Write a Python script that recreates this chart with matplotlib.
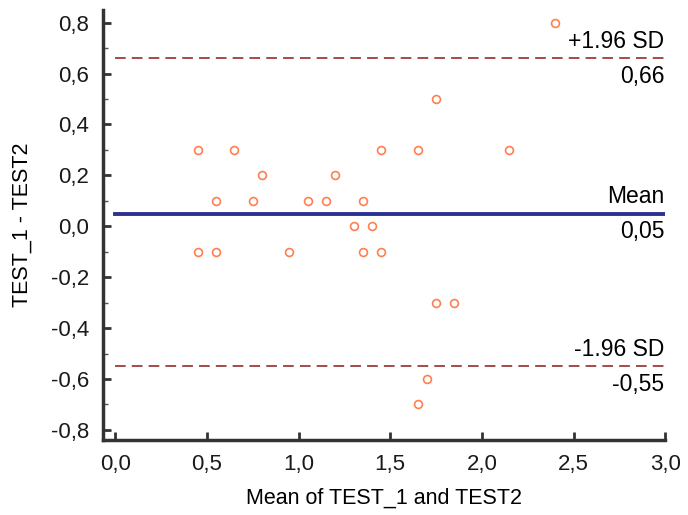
import numpy as np
import matplotlib
import matplotlib.pyplot as plt
from matplotlib.ticker import FuncFormatter, MultipleLocator

matplotlib.use("Agg")

# Bland-Altman data
mean_of_tests = [0.45, 0.65, 0.80, 0.55, 0.75, 1.05, 1.15, 1.20, 1.35, 1.30,
                 1.40, 1.45, 0.45, 0.55, 0.95, 1.35, 1.45, 1.65, 1.75, 2.15,
                 1.75, 1.85, 1.70, 1.65, 2.40]
diff_of_tests = [0.30, 0.30, 0.20, 0.10, 0.10, 0.10, 0.10, 0.20, 0.10, 0.00,
                 0.00, 0.30, -0.10, -0.10, -0.10, -0.10, -0.10, 0.30, 0.50, 0.30,
                 -0.30, -0.30, -0.60, -0.70, 0.80]
mean_diff = 0.05
upper_loa = 0.66
lower_loa = -0.55

x_ticks = [0.0, 0.5, 1.0, 1.5, 2.0, 2.5, 3.0]
y_ticks = [-0.8, -0.6, -0.4, -0.2, 0.0, 0.2, 0.4, 0.6, 0.8]

plt.rcParams['font.family'] = ['Liberation Sans', 'DejaVu Sans']

fig = plt.figure(figsize=(6.88, 5.15), dpi=100)
ax = fig.add_axes([0.150, 0.1456, 0.817, 0.835])

ax.scatter(mean_of_tests, diff_of_tests, s=32, facecolors="white",
           edgecolors="#FF7F50", linewidths=1.2, zorder=3)

ax.plot([0.0, 3.02], [mean_diff, mean_diff], color="#2E3192", lw=2.8, zorder=2)
for val in (upper_loa, lower_loa):
    ax.plot([0.0, 3.02], [val, val], color="#8B1A1A", lw=1.1,
            dashes=(7, 4), zorder=2)

fmt = lambda v: ("%.2f" % v).replace(".", ",")
lab_fs = 16.5
ax.text(2.995, mean_diff + 0.02, "Mean", ha="right", va="bottom", fontsize=lab_fs)
ax.text(2.995, mean_diff - 0.025, fmt(mean_diff), ha="right", va="top", fontsize=lab_fs)
ax.text(2.995, upper_loa + 0.02, "+1.96 SD", ha="right", va="bottom", fontsize=lab_fs)
ax.text(2.995, upper_loa - 0.025, fmt(upper_loa), ha="right", va="top", fontsize=lab_fs)
ax.text(2.995, lower_loa + 0.02, "-1.96 SD", ha="right", va="bottom", fontsize=lab_fs)
ax.text(2.995, lower_loa - 0.025, fmt(lower_loa), ha="right", va="top", fontsize=lab_fs)

ax.set_xlim(-0.065, 3.0)
ax.set_ylim(-0.84, 0.85)
ax.set_xticks(x_ticks)
ax.set_yticks(y_ticks)
ax.yaxis.set_minor_locator(MultipleLocator(0.1))
ax.xaxis.set_major_formatter(FuncFormatter(lambda v, p: ("%.1f" % v).replace(".", ",")))
ax.yaxis.set_major_formatter(FuncFormatter(lambda v, p: ("%.1f" % v).replace(".", ",")))

for side in ("top", "right"):
    ax.spines[side].set_visible(False)
for side in ("left", "bottom"):
    ax.spines[side].set_color("#333333")
    ax.spines[side].set_linewidth(2.5)

ax.tick_params(which="major", direction="in", length=6, width=2, color="#333333",
               labelsize=16, labelcolor="#1a1a1a", pad=10)
ax.tick_params(which="minor", direction="in", length=3.5, width=1, color="#555555")

ax.set_xlabel("Mean of TEST_1 and TEST2", fontsize=15.5, labelpad=9)
ax.set_ylabel("TEST_1 - TEST2", fontsize=15.5, labelpad=13)

plt.savefig("out.png", dpi=100)
